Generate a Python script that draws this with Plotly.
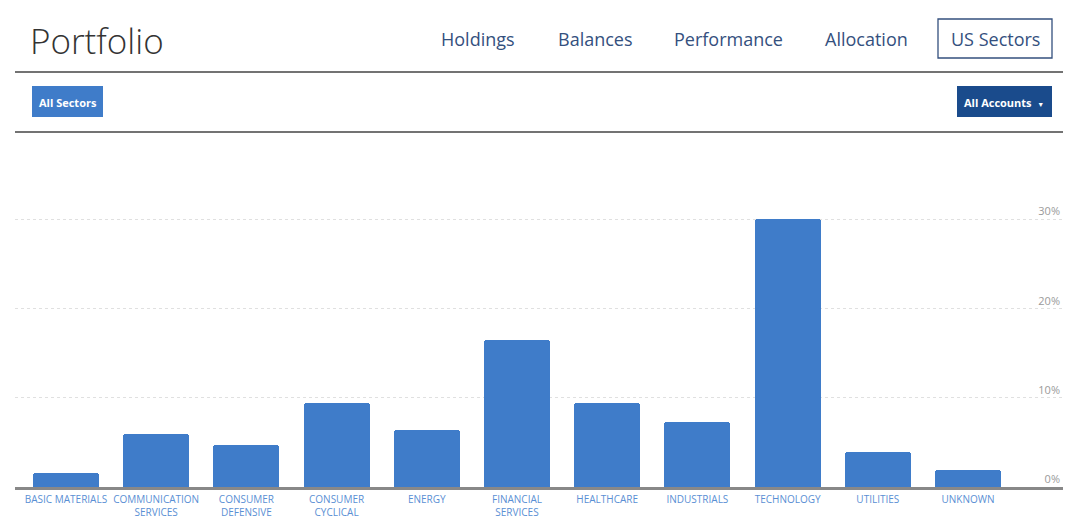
import plotly.graph_objects as go

sectors = ["BASIC MATERIALS", "COMMUNICATION<br>SERVICES", "CONSUMER<br>DEFENSIVE",
           "CONSUMER<br>CYCLICAL", "ENERGY", "FINANCIAL<br>SERVICES", "HEALTHCARE",
           "INDUSTRIALS", "TECHNOLOGY", "UTILITIES", "UNKNOWN"]
weights = [1.6, 5.9, 4.7, 9.4, 6.4, 16.5, 9.4, 7.3, 30.0, 3.9, 1.9]
y_ticks = [0, 10, 20, 30]
y_tick_labels = ["0%", "10%", "20%", "30%"]
nav_items = ["Holdings", "Balances", "Performance", "Allocation", "US Sectors"]
nav_centers = [478, 595, 728, 866, 995]

W, H = 1075, 518
L, R, T, B = 15, 12, 140, 31
PW = W - L - R
PH = H - T - B


def px(x):
    return (x - L) / PW


def py(y):
    return (H - B - y) / PH


fig = go.Figure(go.Bar(
    x=list(range(len(sectors))), y=weights,
    marker=dict(color="#3f7cc9", cornerradius=3, line=dict(width=0)),
    width=0.73, hoverinfo="skip",
))

shapes = [
    dict(type="line", xref="paper", yref="paper", x0=px(15), x1=px(1063), y0=py(72), y1=py(72),
         line=dict(color="#444", width=1.5)),
    dict(type="line", xref="paper", yref="paper", x0=px(15), x1=px(1063), y0=py(132), y1=py(132),
         line=dict(color="#444", width=1.5)),
    dict(type="rect", xref="paper", yref="paper", x0=px(938), x1=px(1052), y0=py(19), y1=py(58),
         line=dict(color="#34507e", width=1.3)),
    dict(type="rect", xref="paper", yref="paper", x0=px(32), x1=px(103), y0=py(86), y1=py(117),
         fillcolor="#3f7cc9", line=dict(width=0)),
    dict(type="rect", xref="paper", yref="paper", x0=px(957), x1=px(1052), y0=py(86), y1=py(117),
         fillcolor="#1a4b8c", line=dict(width=0)),
]

annotations = [
    dict(text="Portfolio", xref="paper", yref="paper", x=px(28), y=py(40), xanchor="left",
         yanchor="middle", showarrow=False,
         font=dict(family="Open Sans", size=35, color="#333", weight=300)),
    dict(text="<b>All Sectors</b>", xref="paper", yref="paper", x=px(67.5), y=py(102),
         xanchor="center", yanchor="middle", showarrow=False,
         font=dict(family="Open Sans", size=11, color="white")),
    dict(text="<b>All Accounts</b>  <span style='font-size:7px'>▼</span>", xref="paper", yref="paper",
         x=px(1004), y=py(102), xanchor="center", yanchor="middle", showarrow=False,
         font=dict(family="Open Sans", size=11, color="white")),
]
for name, cx in zip(nav_items, nav_centers):
    annotations.append(dict(text=name, xref="paper", yref="paper", x=px(cx), y=py(39),
                            xanchor="center", yanchor="middle", showarrow=False,
                            font=dict(family="Open Sans", size=18, color="#34507e")))

fig.update_layout(
    width=W, height=H,
    margin=dict(l=L, r=R, t=T, b=B, autoexpand=False),
    paper_bgcolor="white", plot_bgcolor="white",
    showlegend=False,
    bargap=0,
    shapes=shapes,
    annotations=annotations,
    xaxis=dict(
        tickmode="array", tickvals=list(range(len(sectors))), ticktext=sectors,
        range=[-0.565, 11.053], showgrid=False, zeroline=False,
        showline=True, linecolor="#888", linewidth=2.5,
        ticks="", ticklabelstandoff=1,
        tickfont=dict(family="Open Sans", size=10, color="#5a8fd4"),
        fixedrange=True, automargin=False,
    ),
    yaxis=dict(
        range=[0, PH / 8.93], side="right", tickmode="array", tickvals=y_ticks,
        ticktext=y_tick_labels, ticklabelposition="inside top",
        tickfont=dict(family="Open Sans", size=11, color="#9a9a9a"),
        showgrid=True, gridcolor="#e0e0e0", griddash="dot", gridwidth=1,
        zeroline=False, showline=False, ticks="", fixedrange=True, automargin=False,
    ),
)

fig.write_html("out.html", config={"displayModeBar": False})
